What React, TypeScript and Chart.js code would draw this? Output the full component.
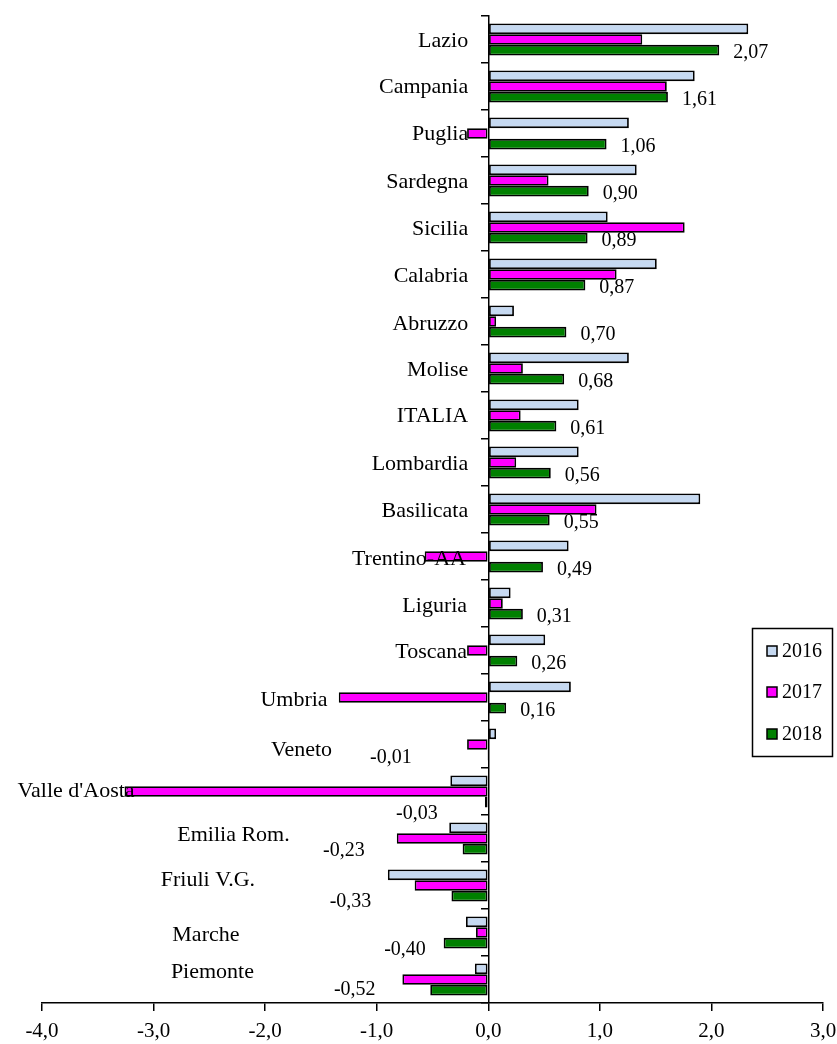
import React, { useEffect, useRef } from "react";
import { Chart, registerables } from "chart.js";

Chart.register(...registerables);

// ---------- data ----------
const categories = [
  "Lazio", "Campania", "Puglia", "Sardegna", "Sicilia", "Calabria", "Abruzzo",
  "Molise", "ITALIA", "Lombardia", "Basilicata", "Trentino-AA", "Liguria",
  "Toscana", "Umbria", "Veneto", "Valle d'Aosta", "Emilia Rom.", "Friuli V.G.",
  "Marche", "Piemonte",
];
const seriesNames = ["2016", "2017", "2018"];
const values2016 = [2.33, 1.85, 1.26, 1.33, 1.07, 1.51, 0.23, 1.26, 0.81, 0.81, 1.9, 0.72, 0.2, 0.51, 0.74, 0.07, -0.34, -0.35, -0.9, -0.2, -0.12];
const values2017 = [1.38, 1.6, -0.19, 0.54, 1.76, 1.15, 0.07, 0.31, 0.29, 0.25, 0.97, -0.57, 0.13, -0.19, -1.34, -0.19, -3.26, -0.82, -0.66, -0.11, -0.77];
const values2018 = [2.07, 1.61, 1.06, 0.9, 0.89, 0.87, 0.7, 0.68, 0.61, 0.56, 0.55, 0.49, 0.31, 0.26, 0.16, -0.01, -0.03, -0.23, -0.33, -0.4, -0.52];
const xMin = -4;
const xMax = 3;

// ---------- style ----------
const FONT = "'Liberation Serif', 'Times New Roman', serif";
const colors = ["#C6D9F1", "#FF00FF", "#008000"];
// right edge of category labels, in axis units
const catLabelRight = [-0.18, -0.18, -0.18, -0.18, -0.18, -0.18, -0.18, -0.18, -0.18, -0.18, -0.18, -0.2, -0.19, -0.19, -1.44, -1.4, -3.17, -1.78, -2.09, -2.23, -2.1];
const catLabelDy = [2, 1, 1, 2, 2, 2, 2.5, 2, 1, 1.5, 1.5, 2.5, 3, 2, 2.5, 5.5, 0, -3, -5, 3, -7];
// right edge of negative value labels, in axis units
const negLabelRight = [0, 0, 0, 0, 0, 0, 0, 0, 0, 0, 0, 0, 0, 0, 0, -0.686, -0.453, -1.108, -1.048, -0.56, -1.01];
const negLabelDy = [0, 0, 0, 0, 0, 0, 0, 0, 0, 0, 0, 0, 0, 0, 0, 3, 12, 2, 6, 7, 0];

const fmt = (v: number, d: number) => v.toFixed(d).replace(".", ",");

const overlayPlugin = {
  id: "overlay",
  afterDraw(chart: any) {
    const ctx = chart.ctx;
    const xs = chart.scales.x;
    const ys = chart.scales.y;
    ctx.save();
    ctx.fillStyle = "#000";
    ctx.textBaseline = "middle";

    // category labels
    ctx.font = `22px ${FONT}`;
    ctx.textAlign = "right";
    categories.forEach((c, i) => {
      ctx.fillText(c, xs.getPixelForValue(catLabelRight[i]), ys.getPixelForValue(i) + catLabelDy[i]);
    });

    // value labels for 2018
    ctx.font = `20px ${FONT}`;
    const meta = chart.getDatasetMeta(2);
    meta.data.forEach((bar: any, i: number) => {
      const v = values2018[i];
      const txt = fmt(v, 2);
      if (v >= 0) {
        ctx.textAlign = "left";
        ctx.fillText(txt, bar.x + 14, bar.y + 3);
      } else {
        ctx.textAlign = "right";
        ctx.fillText(txt, xs.getPixelForValue(negLabelRight[i]), bar.y + negLabelDy[i]);
      }
    });

    // legend
    const lx = 752.5, ly = 628.5, lw = 80, lh = 128;
    ctx.lineWidth = 1.5;
    ctx.strokeStyle = "#000";
    ctx.strokeRect(lx, ly, lw, lh);
    const itemY = [651, 692, 734];
    ctx.textAlign = "left";
    seriesNames.forEach((name, i) => {
      ctx.fillStyle = colors[i];
      ctx.fillRect(767, itemY[i] - 5, 10, 10);
      ctx.strokeRect(767, itemY[i] - 5, 10, 10);
      ctx.fillStyle = "#000";
      ctx.fillText(name, 782, itemY[i] + 1);
    });
    ctx.restore();
  },
};

export default function App() {
  const ref = useRef<HTMLCanvasElement>(null);
  useEffect(() => {
    if (!ref.current) return;
    Chart.defaults.font.family = FONT;
    const chart = new Chart(ref.current, {
      type: "bar",
      data: {
        labels: categories,
        datasets: [values2016, values2017, values2018].map((vals, i) => ({
          label: seriesNames[i],
          data: vals,
          backgroundColor: colors[i],
          borderColor: "#000",
          borderWidth: 1.8,
          borderSkipped: false,
          categoryPercentage: 0.68,
          barPercentage: 1.0,
        })),
      },
      options: {
        indexAxis: "y",
        responsive: false,
        animation: false,
        devicePixelRatio: 1,
        layout: { padding: { left: 42, right: 14, top: 16, bottom: 0 } },
        plugins: {
          legend: { display: false },
          tooltip: { enabled: false },
        },
        scales: {
          x: {
            type: "linear",
            position: "bottom",
            min: xMin,
            max: xMax,
            afterFit: (s: any) => {
              s.height = 41;
              s.paddingLeft = 0;
              s.paddingRight = 0;
            },
            ticks: {
              stepSize: 1,
              color: "#000",
              padding: 8,
              font: { size: 21, family: FONT },
              callback: (v: any) => fmt(Number(v), 1),
            },
            grid: {
              drawOnChartArea: false,
              drawTicks: true,
              tickLength: 8,
              color: "#000",
              lineWidth: 1.5,
            },
            border: { display: true, color: "#000", width: 1.5 },
          },
          y: {
            type: "category",
            position: { x: 0 } as any,
            offset: true,
            ticks: { display: false },
            grid: {
              offset: true,
              drawOnChartArea: false,
              drawTicks: true,
              tickLength: 7,
              color: "#000",
              lineWidth: 1.5,
            },
            border: { display: true, color: "#000", width: 1.5 },
          },
        },
      },
      plugins: [overlayPlugin],
    });
    return () => chart.destroy();
  }, []);
  return (
    <div style={{ position: "absolute", left: 0, top: 0, width: 837, height: 1044, background: "#fff" }}>
      <canvas ref={ref} width={837} height={1044} style={{ width: 837, height: 1044, display: "block" }} />
    </div>
  );
}
